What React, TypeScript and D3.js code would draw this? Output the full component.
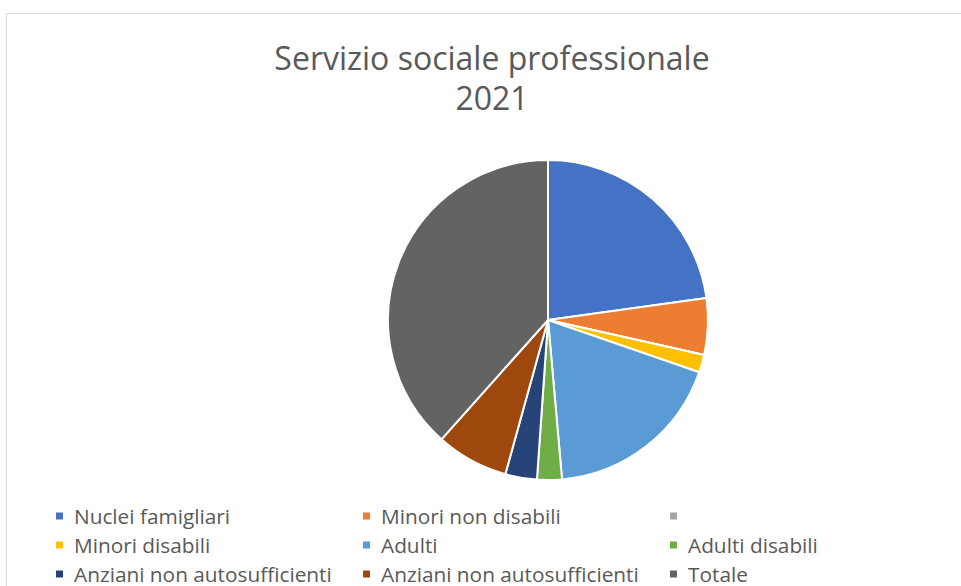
import React from "react";
import * as d3 from "d3";

const categories = [
  "Nuclei famigliari",
  "Minori non disabili",
  "",
  "Minori disabili",
  "Adulti",
  "Adulti disabili",
  "Anziani non autosufficienti",
  "Anziani non autosufficienti",
  "Totale",
];
const values = [228, 57, 0, 18, 183, 25, 32, 73, 384];
const colors = [
  "#4472C4",
  "#ED7D31",
  "#A5A5A5",
  "#FFC000",
  "#5B9BD5",
  "#70AD47",
  "#264478",
  "#9E480E",
  "#636363",
];
const titleLines = ["Servizio sociale professionale", "2021"];

const W = 961;
const H = 586;
const cx = 548;
const cy = 320;
const R = 160;
const FONT = "'Open Sans', sans-serif";

export default function App() {
  const data = categories.map((c, i) => ({ c, v: values[i], col: colors[i], i }));
  const pie = d3.pie<any>().value((d) => d.v).sort(null);
  const arcs = pie(data);
  const arc = d3.arc<any>().innerRadius(0).outerRadius(R);

  const colX = d3.scaleOrdinal<number, number>().domain([0, 1, 2]).range([56, 363, 670]);
  const rowY = d3.scaleLinear().domain([0, 1]).range([516, 545]);

  return (
    <svg
      width={W}
      height={H}
      style={{ position: "absolute", left: 0, top: 0, background: "#fff" }}
    >
      <rect x={6.5} y={13.5} width={W + 20} height={H + 20} fill="#fff" stroke="#d9d9d9" strokeWidth={1} />
      {titleLines.map((t, i) => (
        <text
          key={i}
          x={492}
          y={70 + i * 40}
          textAnchor="middle"
          fontFamily={FONT}
          fontSize={32}
          fill="#595959"
        >
          {t}
        </text>
      ))}
      <g transform={`translate(${cx},${cy})`}>
        {arcs.map((a, i) => (
          <path key={i} d={arc(a) || ""} fill={a.data.col} stroke="#fff" strokeWidth={2} strokeLinejoin="round" />
        ))}
      </g>
      {data.map((d, i) => {
        const col = i % 3;
        const row = Math.floor(i / 3);
        const x = colX(col);
        const y = rowY(row);
        return (
          <g key={i}>
            <rect x={x} y={y - 3.5} width={7} height={7} fill={d.col} />
            <text
              x={x + 18}
              y={y + 7.5}
              fontFamily={FONT}
              fontSize={20.8}
              fill="#595959"
            >
              {d.c}
            </text>
          </g>
        );
      })}
    </svg>
  );
}
